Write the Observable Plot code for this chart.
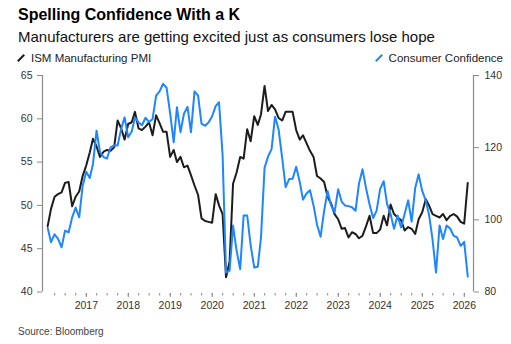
<!DOCTYPE html>
<html><head><meta charset="utf-8">
<script src="https://cdn.jsdelivr.net/npm/d3@7"></script>
<script src="https://cdn.jsdelivr.net/npm/@observablehq/plot@0.6"></script>
<style>
body{margin:0;background:#fff;font-family:"Liberation Sans",Arial,sans-serif;}
#wrap{position:relative;width:511px;height:344px;overflow:hidden;background:#fff;}
.txt{position:absolute;white-space:nowrap;}
#title{left:18px;top:7px;font-size:16px;line-height:16px;font-weight:bold;color:#000;}
#subtitle{left:18px;top:29px;font-size:15px;line-height:15px;color:#111;}
.leg{top:52px;font-size:11.5px;line-height:12px;color:#222;display:flex;align-items:center;}
.leg svg{margin-right:6px;}
#legL{left:17px;}
#legR{right:8px;}
#source{left:18px;top:326px;font-size:10px;line-height:12px;color:#444;}
#chart{position:absolute;left:0;top:65px;}
</style></head><body>
<div id="wrap">
<div id="title" class="txt">Spelling Confidence With a K</div>
<div id="subtitle" class="txt">Manufacturers are getting excited just as consumers lose hope</div>
<div id="legL" class="txt leg"></div>
<div id="legR" class="txt leg"></div>
<div id="chart"></div>
<div id="source" class="txt">Source: Bloomberg</div>
</div>
<script>
const seriesNames = ["ISM Manufacturing PMI", "Consumer Confidence"];
const seriesColors = ["#1c1c1c", "#1e86ff"];
const startYear = 2016;
// Monthly, Jan 2016 - Jan 2026
const ismPMI = [
  47.6, 49.6, 51.0, 51.3, 51.5, 52.6, 52.7, 49.9, 51.0, 51.6, 53.4, 54.6,
  56.1, 57.7, 56.8, 55.6, 56.2, 56.4, 56.3, 56.7, 59.8, 58.9, 57.6, 59.4,
  59.6, 60.8, 58.9, 58.7, 59.1, 59.6, 58.1, 60.4, 59.5, 58.5, 58.5, 55.6,
  56.4, 55.0, 55.6, 54.4, 54.6, 53.5, 52.3, 51.2, 48.5, 48.2, 48.1, 48.0,
  51.3, 50.0, 49.0, 41.7, 43.5, 52.5, 53.8, 55.6, 55.4, 58.8, 57.4, 60.3,
  59.3, 60.5, 63.8, 60.9, 61.6, 61.1, 60.1, 59.8, 60.8, 60.8, 60.8, 58.7,
  57.6, 58.1, 57.2, 56.3, 55.6, 53.4, 53.1, 52.7, 51.0, 50.2, 49.0, 48.4,
  47.3, 47.4, 46.3, 46.9, 46.7, 46.2, 46.5, 47.6, 48.8, 46.8, 46.8, 47.2,
  48.8, 47.7, 50.1, 49.0, 48.6, 48.3, 47.1, 47.5, 47.3, 46.7, 48.4, 49.2,
  50.7, 50.0, 49.0, 48.8, 48.6, 49.0, 48.3, 48.8, 49.0, 48.7, 48.1, 47.9,
  52.6
];
const consumerConfidence = [
  97.8, 93.8, 96.0, 94.7, 92.4, 97.0, 96.5, 100.7, 103.4, 100.7, 109.4, 113.3,
  111.6, 115.5, 124.7, 118.8, 117.4, 117.0, 120.1, 120.6, 120.6, 125.2, 128.4, 122.9,
  124.5, 128.3, 127.0, 126.2, 128.3, 127.1, 127.9, 134.4, 135.6, 137.7, 136.6, 129.5,
  121.5, 131.2, 124.3, 129.4, 131.3, 124.3, 135.6, 134.4, 126.6, 126.1, 127.0, 128.7,
  131.5, 132.6, 118.0, 85.4, 85.9, 98.4, 91.4, 86.3, 101.2, 101.2, 93.0, 86.8,
  87.0, 95.1, 114.4, 117.5, 119.6, 128.6, 125.1, 117.2, 109.1, 111.3, 111.4, 114.7,
  110.5, 105.6, 107.3, 108.2, 104.0, 98.7, 95.3, 102.5, 108.0, 104.0, 102.1, 108.5,
  105.0, 104.0, 103.8, 103.5, 102.5, 110.0, 114.0, 108.7, 104.3, 100.5, 102.5, 108.5,
  110.7, 104.4, 101.6, 97.5, 101.2, 97.9, 101.6, 105.4, 99.5, 108.8, 112.6, 108.0,
  105.3, 101.5, 94.5, 85.4, 98.4, 94.7, 98.4, 97.6, 95.6, 95.1, 92.8, 93.9,
  84.3
];
const leftTicks = [40, 45, 50, 55, 60, 65];
const rightTicks = [80, 100, 120, 140];
const yearLabels = [2017, 2018, 2019, 2020, 2021, 2022, 2023, 2024, 2025, 2026];

const leftDomain = [40, 65];
const rightDomain = [80, 140];
// map right-axis units onto the left scale
const toLeft = v => leftDomain[0] + (v - rightDomain[0]) * (leftDomain[1] - leftDomain[0]) / (rightDomain[1] - rightDomain[0]);
const toRight = v => rightDomain[0] + (v - leftDomain[0]) * (rightDomain[1] - rightDomain[0]) / (leftDomain[1] - leftDomain[0]);

// month-end dates
const dates = ismPMI.map((_, i) => new Date(Date.UTC(startYear, i + 1, 0)));
const ismData = ismPMI.map((v, i) => ({date: dates[i], v}));
const ccData = consumerConfidence.map((v, i) => ({date: dates[i], v: toLeft(v)}));

const xDomain = [new Date(Date.UTC(2015, 11, 17)), new Date(Date.UTC(2026, 2, 22))];
const yearTicks = yearLabels.map(y => new Date(Date.UTC(y, 0, 1)));
const quarterTicks = d3.utcMonth.every(3).range(new Date(Date.UTC(2016, 3, 1)), new Date(Date.UTC(2026, 1, 1)));

const axisColor = "#8a8a8a";
const textColor = "#333";

const chart = Plot.plot({
  width: 511,
  height: 250,
  marginLeft: 42,
  marginRight: 38,
  marginTop: 10,
  marginBottom: 23.5,
  style: {fontFamily: '"Liberation Sans", Arial, sans-serif', background: "transparent"},
  x: {type: "utc", domain: xDomain},
  y: {domain: leftDomain},
  marks: [
    Plot.ruleX([xDomain[0]], {y1: leftDomain[0], y2: leftDomain[1], stroke: axisColor, strokeWidth: 1.2}),
    Plot.ruleX([xDomain[1]], {y1: leftDomain[0], y2: leftDomain[1], stroke: axisColor, strokeWidth: 1.2}),
    Plot.axisY({anchor: "left", ticks: leftTicks, tickSize: 5, tickPadding: 5, fontSize: 10.5, stroke: axisColor, color: textColor, label: null}),
    Plot.axisY({anchor: "right", ticks: rightTicks.map(toLeft), tickFormat: d => String(Math.round(toRight(d))), tickSize: 5, tickPadding: 6, fontSize: 10.5, stroke: axisColor, color: textColor, label: null}),
    Plot.axisX({ticks: quarterTicks, tickFormat: () => "", tickSize: 2.5, dy: 1.5, stroke: axisColor, label: null}),
    Plot.axisX({ticks: yearTicks, tickFormat: d3.utcFormat("%Y"), tickSize: 4, tickPadding: 4, dy: 1.5, fontSize: 10.5, stroke: axisColor, color: textColor, label: null}),
    Plot.line(ismData, {x: "date", y: "v", stroke: seriesColors[0], strokeWidth: 2, strokeLinejoin: "round"}),
    Plot.line(ccData, {x: "date", y: "v", stroke: seriesColors[1], strokeWidth: 2, strokeLinejoin: "round"})
  ]
});
document.getElementById("chart").appendChild(chart);

function legendItem(el, name, color) {
  el.innerHTML = `<svg width="8" height="8" viewBox="0 0 8 8"><line x1="0.8" y1="7.2" x2="7.2" y2="0.8" stroke="${color}" stroke-width="2"/></svg><span>${name}</span>`;
}
legendItem(document.getElementById("legL"), seriesNames[0], seriesColors[0]);
legendItem(document.getElementById("legR"), seriesNames[1], seriesColors[1]);
</script>
</body></html>
